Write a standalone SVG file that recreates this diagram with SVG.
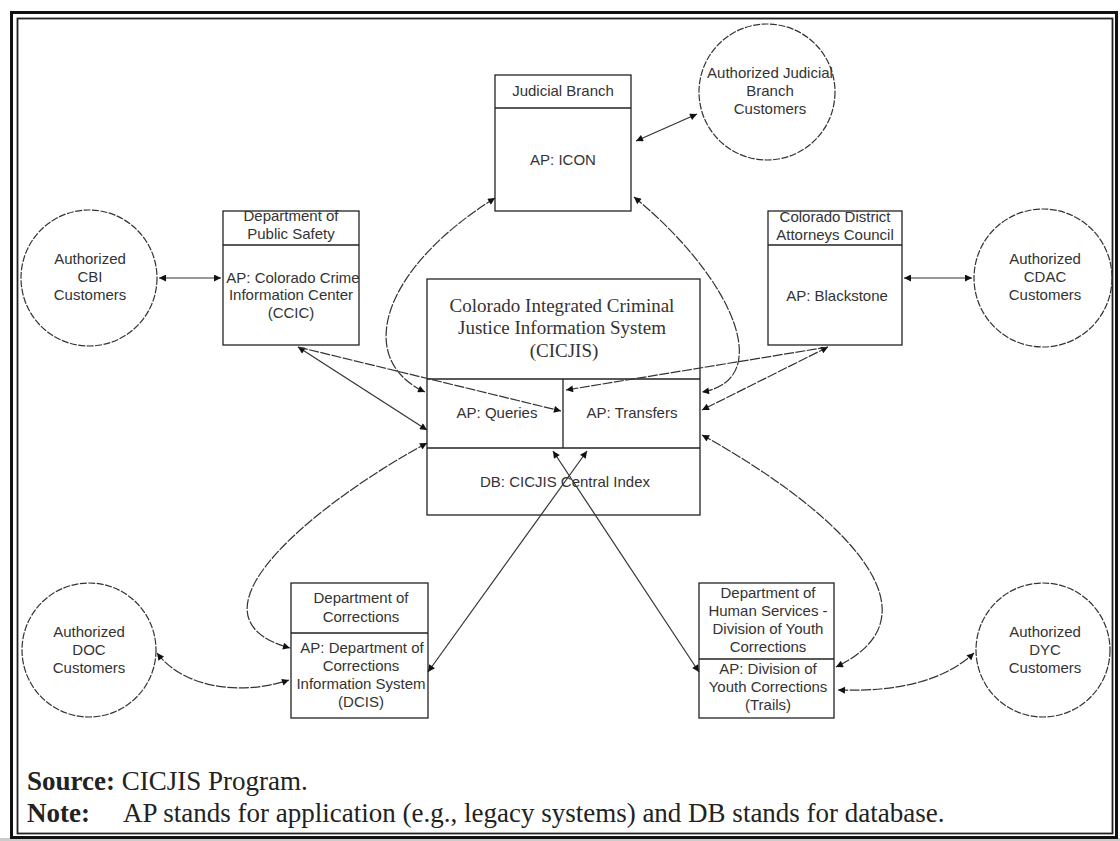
<svg xmlns="http://www.w3.org/2000/svg" width="1120" height="841" viewBox="0 0 1120 841">
<style>
.box{fill:none;stroke:#222;stroke-width:1.3}
.circ{fill:none;stroke:#333;stroke-width:1.2;stroke-dasharray:7 1.5}
.sans{font-family:"Liberation Sans",Arial,sans-serif;font-size:15px;fill:#333;text-anchor:middle}
.serif{font-family:"Liberation Serif","Times New Roman",serif;fill:#333}
.title{font-size:19px;text-anchor:middle}
.note{font-size:27px;fill:#222}
.con{fill:none;stroke:#333;stroke-width:1.2}
.dash{stroke-dasharray:10 1.5}
.both{marker-start:url(#ah);marker-end:url(#ah)}
.end{marker-end:url(#ah)}
</style>
<defs>
<marker id="ah" viewBox="0 0 10 10" refX="10" refY="5" markerWidth="9" markerHeight="7" markerUnits="userSpaceOnUse" orient="auto-start-reverse">
<path d="M0,0 L10,5 L0,10 z" fill="#111"/>
</marker>
</defs>
<rect x="0" y="0" width="1120" height="841" fill="#fff"/>
<rect x="0" y="838" width="1120" height="3" fill="#ccc"/>
<g id="frame">
<rect x="11.5" y="12.5" width="1105" height="825" fill="none" stroke="#111" stroke-width="3"/>
<rect x="17.5" y="18.5" width="1095" height="815" fill="none" stroke="#222" stroke-width="1.8"/>
</g>

<g id="judicial">
<rect class="box" x="495" y="75" width="136" height="136"/>
<line x1="495" y1="108" x2="631" y2="108" stroke="#222" stroke-width="1.3"/>
<text class="sans" x="563" y="96">Judicial Branch</text>
<text class="sans" x="563" y="165">AP: ICON</text>
</g>

<g id="judicial-customers">
<circle class="circ" cx="767" cy="92" r="68"/>
<text class="sans" x="770" y="78">Authorized Judicial</text>
<text class="sans" x="770" y="96">Branch</text>
<text class="sans" x="770" y="114">Customers</text>
</g>

<g id="cbi-customers">
<circle class="circ" cx="89" cy="278" r="68"/>
<text class="sans" x="90" y="264">Authorized</text>
<text class="sans" x="90" y="282">CBI</text>
<text class="sans" x="90" y="300">Customers</text>
</g>

<g id="dps">
<rect class="box" x="223" y="211" width="136" height="134"/>
<line x1="223" y1="245" x2="359" y2="245" stroke="#222" stroke-width="1.3"/>
<text class="sans" x="291" y="221">Department of</text>
<text class="sans" x="291" y="239">Public Safety</text>
<text class="sans" x="293" y="283">AP: Colorado Crime</text>
<text class="sans" x="291" y="300">Information Center</text>
<text class="sans" x="291" y="318">(CCIC)</text>
</g>

<g id="cdac">
<rect class="box" x="768" y="211" width="134" height="134"/>
<line x1="768" y1="245" x2="902" y2="245" stroke="#222" stroke-width="1.3"/>
<text class="sans" x="835" y="222">Colorado District</text>
<text class="sans" x="835" y="240">Attorneys Council</text>
<text class="sans" x="837" y="301">AP: Blackstone</text>
</g>

<g id="cdac-customers">
<circle class="circ" cx="1043" cy="278" r="69"/>
<text class="sans" x="1045" y="264">Authorized</text>
<text class="sans" x="1045" y="282">CDAC</text>
<text class="sans" x="1045" y="300">Customers</text>
</g>

<g id="cicjis">
<rect class="box" x="427" y="279" width="273" height="236"/>
<line x1="427" y1="379" x2="700" y2="379" stroke="#222" stroke-width="1.3"/>
<line x1="427" y1="448" x2="700" y2="448" stroke="#222" stroke-width="1.3"/>
<line x1="563" y1="379" x2="563" y2="448" stroke="#222" stroke-width="1.3"/>
<text class="serif title" x="562" y="312">Colorado Integrated Criminal</text>
<text class="serif title" x="562" y="334">Justice Information System</text>
<text class="serif title" x="564" y="357">(CICJIS)</text>
<text class="sans" x="497" y="418">AP: Queries</text>
<text class="sans" x="632" y="418">AP: Transfers</text>
<text class="sans" x="565" y="487">DB: CICJIS Central Index</text>
</g>

<g id="doc-customers">
<circle class="circ" cx="89" cy="650" r="67"/>
<text class="sans" x="89" y="637">Authorized</text>
<text class="sans" x="89" y="655">DOC</text>
<text class="sans" x="89" y="673">Customers</text>
</g>

<g id="doc">
<rect class="box" x="291" y="583" width="137" height="135"/>
<line x1="291" y1="633" x2="428" y2="633" stroke="#222" stroke-width="1.3"/>
<text class="sans" x="361" y="603">Department of</text>
<text class="sans" x="361" y="622">Corrections</text>
<text class="sans" x="362" y="653">AP: Department of</text>
<text class="sans" x="361" y="671">Corrections</text>
<text class="sans" x="361" y="689">Information System</text>
<text class="sans" x="361" y="707">(DCIS)</text>
</g>

<g id="dyc">
<rect class="box" x="699" y="583" width="135" height="135"/>
<line x1="699" y1="659" x2="834" y2="659" stroke="#222" stroke-width="1.3"/>
<text class="sans" x="768" y="598">Department of</text>
<text class="sans" x="768" y="616">Human Services -</text>
<text class="sans" x="768" y="634">Division of Youth</text>
<text class="sans" x="768" y="652">Corrections</text>
<text class="sans" x="768" y="674">AP: Division of</text>
<text class="sans" x="768" y="692">Youth Corrections</text>
<text class="sans" x="768" y="710">(Trails)</text>
</g>

<g id="dyc-customers">
<circle class="circ" cx="1043" cy="650" r="67"/>
<text class="sans" x="1045" y="637">Authorized</text>
<text class="sans" x="1045" y="655">DYC</text>
<text class="sans" x="1045" y="673">Customers</text>
</g>

<g id="connectors">
<path class="con both" d="M636,141 L697,114"/>
<path class="con both" d="M159,278 L221,278"/>
<path class="con both" d="M904,278 L972,278"/>
<path class="con dash both" d="M495,198 C380,270 355,360 425,392"/>
<path class="con dash both" d="M634,197 C735,280 775,380 702,392"/>
<path class="con both" d="M298,347 L427,430"/>
<path class="con dash end" d="M298,347 L561,411"/>
<path class="con dash both" d="M828,347 L702,410"/>
<path class="con dash end" d="M828,347 L566,390"/>
<path class="con dash both" d="M427,443 C330,495 170,615 290,648"/>
<path class="con both" d="M587,451 L428,672"/>
<path class="con both" d="M553,451 L699,672"/>
<path class="con dash both" d="M702,435 C820,500 955,610 836,667"/>
<path class="con dash both" d="M157,653 C185,690 245,695 289,680"/>
<path class="con dash both" d="M838,690 C900,692 945,680 974,653"/>
</g>

<g id="notes">
<text class="serif note" x="27" y="790"><tspan font-weight="bold">Source:</tspan> CICJIS Program.</text>
<text class="serif note" x="27" y="822"><tspan font-weight="bold">Note:</tspan></text>
<text class="serif note" x="123" y="822">AP stands for application (e.g., legacy systems) and DB stands for database.</text>
</g>
</svg>
